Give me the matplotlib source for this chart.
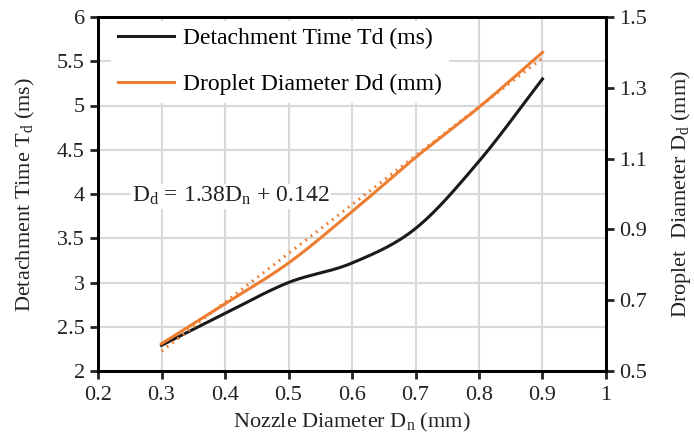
import numpy as np
import matplotlib
matplotlib.use("Agg")
import matplotlib.pyplot as plt

nozzle = [0.3, 0.4, 0.5, 0.6, 0.7, 0.8, 0.9]
detach_time = [2.29, 2.65, 3.0, 3.22, 3.61, 4.37, 5.3]
droplet_diam = [0.577, 0.69, 0.805, 0.95, 1.103, 1.245, 1.40]
fit_slope, fit_intercept = 1.38, 0.142

plt.rcParams['font.family'] = ['Liberation Serif', 'DejaVu Serif']
plt.rcParams['mathtext.fontset'] = 'custom'
plt.rcParams['mathtext.rm'] = 'Liberation Serif'
plt.rcParams['mathtext.it'] = 'Liberation Serif'

def smooth(x, y, n=30, t=0.5):
    x = np.asarray(x, float); y = np.asarray(y, float)
    P = np.column_stack([x, y])
    Pp = np.vstack([2*P[0]-P[1], P, 2*P[-1]-P[-2]])
    out = []
    for i in range(1, len(Pp)-2):
        p0, p1, p2, p3 = Pp[i-1], Pp[i], Pp[i+1], Pp[i+2]
        m1 = t*(p2-p0); m2 = t*(p3-p1)
        s = np.linspace(0, 1, n)[:, None]
        h00 = 2*s**3-3*s**2+1; h10 = s**3-2*s**2+s
        h01 = -2*s**3+3*s**2; h11 = s**3-s**2
        out.append(h00*p1+h10*m1+h01*p2+h11*m2)
    c = np.vstack(out)
    return c[:, 0], c[:, 1]

FS = 16
fig = plt.figure(figsize=(6.94, 4.45), dpi=100)
ax = fig.add_axes([98/694, 1-371/445, 508/694, 354/445])
ax2 = ax.twinx()

black = '#1a1a1a'
orange = '#ED7D31'
sx, sy = smooth(nozzle, detach_time)
l1, = ax.plot(sx, sy, color=black, lw=2.2, label='Detachment Time Td (ms)', zorder=3)
dx, dy = smooth(nozzle, droplet_diam)
l2, = ax2.plot(dx, dy, color=orange, lw=2.2, label='Droplet Diameter Dd (mm)', zorder=3)
fx = np.array([nozzle[0], nozzle[-1]])
ax2.plot(fx, fit_slope*fx + fit_intercept, color=orange, lw=2.2, ls=(0, (0.6, 1.6)), zorder=3)

ax.set_xlim(0.2, 1.0)
ax.set_ylim(2, 6)
ax2.set_ylim(0.5, 1.5)
ax.set_xticks(np.arange(0.2, 1.01, 0.1))
ax.set_xticklabels(['0.2', '0.3', '0.4', '0.5', '0.6', '0.7', '0.8', '0.9', '1'])
ax.set_yticks(np.arange(2, 6.01, 0.5))
ax.set_yticklabels(['2', '2.5', '3', '3.5', '4', '4.5', '5', '5.5', '6'])
ax2.set_yticks([0.5, 0.7, 0.9, 1.1, 1.3, 1.5])
ax2.set_yticklabels(['0.5', '0.7', '0.9', '1.1', '1.3', '1.5'])

ax.grid(True, color='#d9d9d9', lw=1.5)
ax.set_axisbelow(True)
for a in (ax, ax2):
    for s in a.spines.values():
        s.set_linewidth(2)
        s.set_color('black')
    a.tick_params(labelsize=FS, width=2, length=6, direction='out', colors='#222222')
ax.tick_params(axis='x', pad=5)

ax.set_xlabel(r'Nozzle Diameter D$_\mathrm{n}$ (mm)', fontsize=FS, color='#222222', labelpad=4)
ax.set_ylabel(r'Detachment Time T$_\mathrm{d}$ (ms)', fontsize=FS, color='#222222', labelpad=14)
ax2.set_ylabel(r'Droplet  Diameter D$_\mathrm{d}$ (mm)', fontsize=FS, color='#222222', labelpad=16)

leg = ax2.legend(handles=[l1, l2], loc='upper left', bbox_to_anchor=(0.025, 0.99),
                 frameon=True, fontsize=17, handlelength=2.4, labelspacing=1.05,
                 borderaxespad=0.0, handletextpad=0.35, borderpad=0.3)
leg.get_frame().set_edgecolor('none')
leg.get_frame().set_facecolor('white')
leg.get_frame().set_alpha(1)

ax.text(0.254, 3.91, r'D$_\mathrm{d}$ = 1.38D$_\mathrm{n}$ + 0.142', fontsize=17,
        color='#222222', va='baseline', ha='left', zorder=4,
        bbox=dict(facecolor='white', edgecolor='none', pad=1))

fig.savefig('out.png', dpi=100)
